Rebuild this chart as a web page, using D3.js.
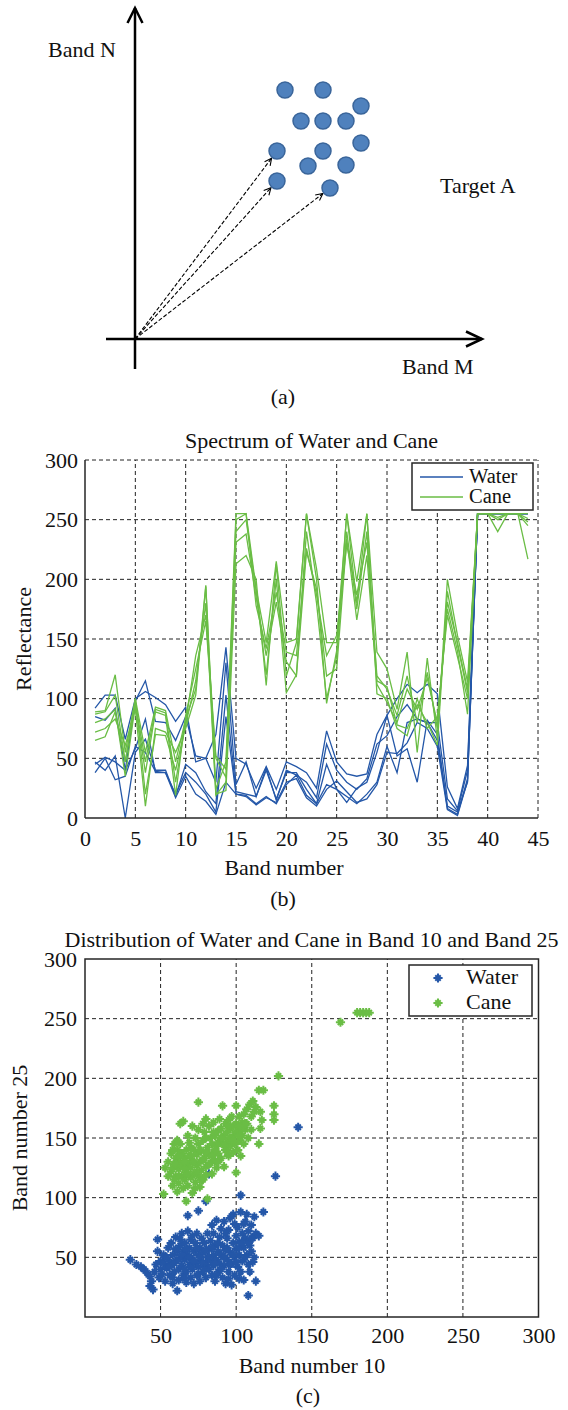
<!DOCTYPE html>
<html>
<head>
<meta charset="utf-8">
<script src="https://cdn.jsdelivr.net/npm/d3@7"></script>
<style>
  body { margin: 0; background: #fff; }
  svg { display: block; font-family: "Liberation Serif", "Times New Roman", serif; }
</style>
</head>
<body>
<div id="chart"></div>
<script>
// ---------- (a) schematic: offsets from the origin of the Band M / Band N axes
const targetPoints = [
  [150, 249], [188, 249], [226, 233], [166, 218], [188, 218], [211, 218],
  [142, 188], [188, 188], [226, 196], [173, 173], [211, 174], [142, 158], [195, 151]
];
const arrowTargets = [6, 11, 12];

// ---------- (b) spectra
const bands = [1, 2, 3, 4, 5, 6, 7, 8, 9, 10, 11, 12, 13, 14, 15, 16, 17, 18, 19, 20, 21, 22,
  23, 24, 25, 26, 27, 28, 29, 30, 31, 32, 33, 34, 35, 36, 37, 38, 39, 40, 41, 42, 43, 44];
const waterSpectra = [
  [92, 103, 103, 66, 100, 106, 101, 95, 81, 93, 47, 50, 70, 143, 50, 45, 25, 43, 24, 47, 43, 38, 25, 73, 47, 37, 35, 37, 70, 86, 100, 112, 105, 112, 104, 26, 8, 44, 255, 255, 255, 255, 255, 255],
  [85, 82, 92, 40, 98, 115, 81, 80, 65, 85, 52, 50, 30, 130, 28, 47, 18, 42, 15, 40, 36, 30, 17, 62, 40, 30, 24, 33, 62, 69, 85, 95, 83, 80, 80, 16, 6, 40, 255, 255, 255, 255, 255, 255],
  [47, 40, 52, 0, 55, 66, 40, 40, 18, 45, 38, 22, 12, 103, 22, 20, 18, 40, 16, 38, 38, 24, 12, 45, 24, 13, 25, 30, 55, 86, 52, 58, 30, 82, 70, 8, 3, 33, 255, 255, 255, 255, 255, 255],
  [45, 51, 47, 40, 58, 83, 38, 38, 20, 38, 30, 20, 5, 85, 20, 19, 12, 18, 12, 28, 36, 19, 12, 28, 24, 18, 12, 20, 30, 60, 38, 80, 83, 80, 65, 10, 5, 30, 255, 255, 255, 255, 255, 255],
  [38, 50, 32, 35, 60, 55, 39, 38, 17, 35, 20, 14, 3, 30, 20, 18, 11, 17, 13, 30, 33, 17, 10, 24, 31, 22, 13, 16, 28, 55, 54, 63, 80, 75, 60, 7, 2, 31, 255, 255, 255, 255, 255, 255]
];
const caneSpectra = [
  [89, 90, 120, 55, 100, 55, 93, 90, 47, 83, 108, 195, 24, 47, 255, 255, 192, 147, 215, 147, 150, 255, 209, 147, 147, 255, 198, 255, 139, 125, 91, 139, 55, 134, 66, 200, 153, 114, 255, 255, 252, 255, 255, 248],
  [87, 89, 103, 47, 97, 47, 91, 88, 30, 80, 136, 170, 52, 41, 250, 255, 178, 142, 189, 139, 136, 226, 187, 136, 153, 229, 187, 231, 119, 108, 86, 119, 80, 122, 75, 181, 147, 108, 255, 255, 255, 255, 255, 251],
  [80, 83, 91, 35, 95, 38, 89, 86, 19, 86, 125, 165, 50, 34, 231, 238, 185, 136, 181, 131, 119, 223, 192, 119, 125, 234, 166, 220, 112, 97, 80, 108, 91, 117, 80, 175, 140, 87, 255, 255, 240, 255, 255, 217],
  [72, 75, 83, 61, 91, 10, 75, 72, 55, 75, 103, 194, 20, 23, 213, 220, 200, 111, 213, 119, 147, 255, 200, 96, 140, 255, 180, 255, 104, 100, 75, 69, 100, 75, 85, 170, 135, 100, 255, 255, 255, 255, 255, 255],
  [65, 68, 89, 47, 100, 20, 70, 69, 40, 78, 115, 180, 19, 30, 240, 250, 190, 120, 200, 105, 120, 240, 180, 100, 135, 240, 175, 240, 115, 110, 78, 75, 95, 80, 61, 190, 145, 105, 255, 255, 250, 255, 255, 245]
];
const specXTicks = [0, 5, 10, 15, 20, 25, 30, 35, 40, 45];
const specYTicks = [0, 50, 100, 150, 200, 250, 300];

// ---------- (c) band 10 vs band 25
const waterPoints = [
  [30, 48], [34, 44], [37, 42], [39, 40], [41, 37], [43, 34], [43, 26], [44, 30], [45, 23], [46, 38], [47, 44],
  [48, 65], [48, 55], [49, 33], [50, 40], [50, 47], [82, 120],
  [51, 36], [52, 45], [52, 52], [53, 30], [54, 41], [55, 58], [55, 48], [56, 35], [57, 62], [57, 44], [58, 52],
  [58, 28], [59, 38], [60, 67], [60, 47], [61, 55], [61, 22], [62, 40], [62, 31], [63, 60], [63, 50], [64, 70],
  [64, 43], [65, 35], [65, 55], [66, 48], [66, 62], [67, 38], [67, 29], [68, 52], [68, 72], [69, 44], [69, 58],
  [70, 33], [70, 65], [71, 48], [71, 40], [72, 55], [72, 28], [73, 62], [73, 45], [74, 35], [74, 70], [75, 52],
  [75, 42], [76, 58], [76, 30], [77, 47], [77, 66], [78, 38], [78, 54], [79, 62], [80, 44], [80, 33], [81, 50],
  [81, 70], [82, 57], [82, 40], [83, 47], [83, 64], [84, 35], [84, 77], [85, 52], [85, 43], [86, 60], [86, 30],
  [87, 48], [87, 81], [88, 55], [88, 38], [89, 67], [89, 45], [90, 74], [90, 52], [91, 33], [91, 60], [92, 43],
  [92, 80], [93, 56], [93, 28], [94, 48], [94, 66], [95, 73], [95, 38], [96, 54], [96, 83], [97, 45], [97, 27],
  [98, 62], [98, 86], [99, 50], [99, 35], [100, 68], [100, 57], [101, 42], [101, 75], [102, 52], [102, 63],
  [103, 88], [103, 38], [104, 47], [104, 70], [105, 58], [105, 31], [106, 66], [106, 80], [107, 86], [107, 52],
  [108, 44], [108, 72], [109, 60], [109, 38], [110, 77], [110, 55], [111, 66], [111, 46], [112, 50], [112, 84],
  [113, 30], [113, 70], [115, 68], [118, 88], [108, 18], [103, 102], [80, 97], [75, 89], [68, 85],
  [126, 118], [141, 159],
  [54, 50], [56, 42], [59, 45], [60, 57], [62, 48], [64, 52], [66, 40], [67, 57], [69, 50], [70, 42], [72, 47],
  [74, 58], [76, 50], [78, 45], [79, 40], [80, 56], [82, 50], [84, 58], [86, 45], [88, 62], [90, 40], [92, 50],
  [94, 58], [96, 44], [98, 52], [100, 46], [102, 58], [104, 62], [106, 50], [108, 62], [110, 66], [63, 65],
  [71, 68], [85, 70], [93, 70], [99, 78], [105, 78], [58, 33], [66, 32], [75, 36], [87, 35], [95, 32], [102, 32]
];
const canePoints = [
  [52, 103], [53, 125], [55, 118], [55, 130], [57, 122], [57, 137], [58, 110], [59, 128], [60, 133], [60, 118],
  [61, 105], [61, 140], [62, 124], [62, 112], [63, 130], [63, 145], [64, 118], [64, 137], [65, 108], [65, 126],
  [66, 133], [66, 115], [67, 140], [67, 97], [67, 121], [68, 128], [68, 110], [69, 135], [69, 146], [70, 117],
  [70, 125], [71, 104], [71, 131], [72, 140], [72, 120], [73, 113], [73, 150], [74, 127], [74, 136], [75, 118],
  [75, 145], [75, 157], [76, 109], [76, 130], [77, 139], [77, 123], [78, 115], [78, 148], [79, 133], [79, 155],
  [80, 126], [80, 119], [81, 142], [81, 99], [82, 136], [82, 160], [83, 129], [83, 150], [84, 120], [84, 145],
  [85, 138], [85, 163], [86, 131], [86, 152], [87, 143], [87, 125], [88, 156], [88, 137], [89, 148], [89, 166],
  [90, 133], [90, 158], [91, 145], [91, 177], [92, 152], [92, 126], [93, 140], [93, 162], [94, 155], [94, 147],
  [95, 135], [95, 165], [96, 158], [96, 143], [97, 150], [97, 168], [98, 138], [98, 160], [99, 153], [99, 145],
  [100, 121], [100, 162], [100, 177], [101, 140], [101, 155], [102, 168], [102, 148], [103, 158], [103, 135],
  [104, 163], [104, 152], [105, 145], [105, 170], [106, 157], [107, 174], [107, 162], [108, 150], [109, 178],
  [110, 168], [110, 157], [111, 181], [112, 172], [113, 176], [115, 190], [116, 158], [115, 145], [116, 172],
  [118, 190], [117, 165], [125, 165], [125, 170], [125, 177], [128, 202], [75, 180], [63, 162], [65, 164],
  [58, 140], [59, 145], [61, 148], [68, 152], [71, 160], [78, 162], [80, 166],
  [58, 125], [60, 128], [62, 135], [64, 127], [66, 124], [68, 120], [70, 135], [72, 130], [74, 122], [76, 140],
  [78, 132], [80, 138], [82, 128], [84, 135], [86, 140], [88, 146], [90, 150], [92, 144], [94, 138], [96, 150],
  [98, 148], [100, 155], [102, 152], [104, 158], [106, 162], [85, 155], [80, 150], [70, 142], [62, 118],
  [66, 130], [59, 115], [73, 108], [77, 115], [88, 130], [95, 160], [102, 160],
  [169, 247], [180, 255], [182, 255], [184, 255], [186, 255], [188, 255]
];
const scatTicks = [50, 100, 150, 200, 250, 300];
const scatGrid = [50, 100, 150, 200, 250];

const legendNames = ["Water", "Cane"];
const BLUE = "#2457a8", GREEN = "#6abd45";
const INK = "#111", AXIS = "#262626";
const FS = 22;

const svg = d3.select("#chart").append("svg")
  .attr("width", 568).attr("height", 1410);

function label(g, x, y, txt, anchor, rot, size) {
  const t = g.append("text").attr("x", x).attr("y", y)
    .attr("font-size", size || FS).attr("fill", INK)
    .attr("text-anchor", anchor || "start").text(txt);
  if (rot) t.attr("transform", `rotate(-90,${x},${y})`);
  return t;
}

// ================= (a)
const ax = d3.scaleLinear().domain([0, 347]).range([135, 482]);
const ay = d3.scaleLinear().domain([0, 331]).range([339, 8]);
const ga = svg.append("g");

ga.append("line").attr("x1", ax(-29)).attr("x2", ax(347)).attr("y1", ay(0)).attr("y2", ay(0))
  .attr("stroke", "#000").attr("stroke-width", 2.5);
ga.append("line").attr("x1", ax(0)).attr("x2", ax(0)).attr("y1", ay(-30)).attr("y2", ay(331))
  .attr("stroke", "#000").attr("stroke-width", 2.5);
ga.append("path")
  .attr("d", `M${ax(0) - 7.5},${ay(331) + 15}L${ax(0)},${ay(331)}L${ax(0) + 7.5},${ay(331) + 15}`)
  .attr("fill", "none").attr("stroke", "#000").attr("stroke-width", 2.5);
ga.append("path")
  .attr("d", `M${ax(347) - 16},${ay(0) - 7.5}L${ax(347)},${ay(0)}L${ax(347) - 16},${ay(0) + 7.5}`)
  .attr("fill", "none").attr("stroke", "#000").attr("stroke-width", 2.5);

// dashed vectors from the origin to some targets
arrowTargets.forEach(i => {
  const [px, py] = targetPoints[i];
  const len = Math.hypot(px, py);
  const ux = px / len, uy = py / len;
  const ex = px - 9 * ux, ey = py - 9 * uy;
  const x0 = ax(0), y0 = ay(0), x1 = ax(ex), y1 = ay(ey);
  ga.append("line").attr("x1", x0).attr("y1", y0).attr("x2", x1).attr("y2", y1)
    .attr("stroke", "#000").attr("stroke-width", 1.1).attr("stroke-dasharray", "4,2");
  const ang = Math.atan2(y1 - y0, x1 - x0);
  const h = 7, w = 3.5;
  const bxp = x1 - h * Math.cos(ang), byp = y1 - h * Math.sin(ang);
  const nx = -Math.sin(ang) * w, ny = Math.cos(ang) * w;
  ga.append("path")
    .attr("d", `M${bxp + nx},${byp + ny}L${x1},${y1}L${bxp - nx},${byp - ny}`)
    .attr("fill", "none").attr("stroke", "#000").attr("stroke-width", 1.1);
});

ga.selectAll("circle.tgt").data(targetPoints).join("circle")
  .attr("class", "tgt")
  .attr("cx", d => ax(d[0])).attr("cy", d => ay(d[1])).attr("r", 8)
  .attr("fill", "#4f81bd").attr("stroke", "#3a659a").attr("stroke-width", 1.5);

label(ga, 48, 57, "Band N");
label(ga, 440, 193, "Target A");
label(ga, 402, 374, "Band M");
label(ga, 283, 404, "(a)", "middle");

// ================= (b)
const bx = d3.scaleLinear().domain([0, 45]).range([85, 538]);
const by = d3.scaleLinear().domain([0, 300]).range([818, 460]);
const gb = svg.append("g");

gb.selectAll("line.vg").data(specXTicks.filter(d => d > 0)).join("line")
  .attr("x1", d => bx(d)).attr("x2", d => bx(d)).attr("y1", by(0)).attr("y2", by(300))
  .attr("stroke", "#222").attr("stroke-width", 1).attr("stroke-dasharray", "4,3");
gb.selectAll("line.hg").data(specYTicks.filter(d => d > 0)).join("line")
  .attr("x1", bx(0)).attr("x2", bx(45)).attr("y1", d => by(d)).attr("y2", d => by(d))
  .attr("stroke", "#222").attr("stroke-width", 1).attr("stroke-dasharray", "4,3");

const line = d3.line().x((d, i) => bx(bands[i])).y(d => by(d));
gb.selectAll("path.water").data(waterSpectra).join("path")
  .attr("d", line).attr("fill", "none").attr("stroke", BLUE).attr("stroke-width", 1.3);
gb.selectAll("path.cane").data(caneSpectra).join("path")
  .attr("d", line).attr("fill", "none").attr("stroke", GREEN).attr("stroke-width", 1.3);

gb.append("line").attr("x1", bx(0)).attr("x2", bx(0)).attr("y1", by(0)).attr("y2", by(300))
  .attr("stroke", AXIS).attr("stroke-width", 1.5);
gb.append("line").attr("x1", bx(0)).attr("x2", bx(45)).attr("y1", by(0)).attr("y2", by(0))
  .attr("stroke", AXIS).attr("stroke-width", 1.5);

const byAxis = gb.append("g").attr("transform", `translate(${bx(0)},0)`)
  .call(d3.axisLeft(by).tickValues(specYTicks).tickSize(0).tickPadding(7));
const bxAxis = gb.append("g").attr("transform", `translate(0,${by(0)})`)
  .call(d3.axisBottom(bx).tickValues(specXTicks).tickSize(0).tickPadding(12));
[byAxis, bxAxis].forEach(g => {
  g.select(".domain").remove();
  g.attr("font-size", FS).attr("font-family", null);
  g.selectAll("text").attr("fill", INK);
});

label(gb, 311.5, 448, "Spectrum of Water and Cane", "middle");
label(gb, 284, 875, "Band number", "middle");
label(gb, 31, 639, "Reflectance", "middle", true);
label(gb, 283, 906, "(b)", "middle");

// legend
const lgB = gb.append("g");
lgB.append("rect").attr("x", 412).attr("y", 463).attr("width", 121).attr("height", 47)
  .attr("fill", "#fff").attr("stroke", AXIS).attr("stroke-width", 1.5);
[BLUE, GREEN].forEach((c, i) => {
  lgB.append("line").attr("x1", 420).attr("x2", 463).attr("y1", 477 + i * 20).attr("y2", 477 + i * 20)
    .attr("stroke", c).attr("stroke-width", 1.3);
  label(lgB, 469, 483 + i * 20, legendNames[i], "start", false, 20.5);
});

// ================= (c)
const cx = d3.scaleLinear().domain([0, 300]).range([85, 538.5]);
const cy = d3.scaleLinear().domain([0, 300]).range([1317, 959]);
const gc = svg.append("g");

gc.selectAll("line.vg").data(scatGrid).join("line")
  .attr("x1", d => cx(d)).attr("x2", d => cx(d)).attr("y1", cy(0)).attr("y2", cy(300))
  .attr("stroke", "#222").attr("stroke-width", 1).attr("stroke-dasharray", "4,3");
gc.selectAll("line.hg").data(scatGrid).join("line")
  .attr("x1", cx(0)).attr("x2", cx(300)).attr("y1", d => cy(d)).attr("y2", d => cy(d))
  .attr("stroke", "#222").attr("stroke-width", 1).attr("stroke-dasharray", "4,3");

// MATLAB-style '*' marker
const star = "M-4.6,0H4.6M0,-4.6V4.6M-2.7,-2.7L2.7,2.7M-2.7,2.7L2.7,-2.7";
function stars(g, data, color) {
  g.selectAll(null).data(data).join("path")
    .attr("d", star)
    .attr("transform", d => `translate(${cx(d[0])},${cy(d[1])})`)
    .attr("fill", "none").attr("stroke", color).attr("stroke-width", 2);
}
stars(gc.append("g"), waterPoints, BLUE);
stars(gc.append("g"), canePoints, GREEN);

gc.append("rect").attr("x", cx(0)).attr("y", cy(300))
  .attr("width", cx(300) - cx(0)).attr("height", cy(0) - cy(300))
  .attr("fill", "none").attr("stroke", AXIS).attr("stroke-width", 1.5);

const cyAxis = gc.append("g").attr("transform", `translate(${cx(0)},0)`)
  .call(d3.axisLeft(cy).tickValues(scatTicks).tickSize(0).tickPadding(8));
const cxAxis = gc.append("g").attr("transform", `translate(0,${cy(0)})`)
  .call(d3.axisBottom(cx).tickValues(scatTicks).tickSize(0).tickPadding(10));
[cyAxis, cxAxis].forEach(g => {
  g.select(".domain").remove();
  g.attr("font-size", FS).attr("font-family", null);
  g.selectAll("text").attr("fill", INK);
});

label(gc, 311.5, 947, "Distribution of Water and Cane in Band 10 and Band 25", "middle");
label(gc, 312, 1373, "Band number 10", "middle");
label(gc, 27, 1138, "Band number 25", "middle", true);
label(gc, 308, 1403, "(c)", "middle");

const lgC = gc.append("g");
lgC.append("rect").attr("x", 409).attr("y", 965).attr("width", 123).attr("height", 51)
  .attr("fill", "#fff").attr("stroke", AXIS).attr("stroke-width", 1.5);
[BLUE, GREEN].forEach((c, i) => {
  lgC.append("path").attr("d", star)
    .attr("transform", `translate(438,${978 + i * 25})`)
    .attr("fill", "none").attr("stroke", c).attr("stroke-width", 2);
  label(lgC, 466, 984 + i * 25, legendNames[i]);
});
</script>
</body>
</html>
